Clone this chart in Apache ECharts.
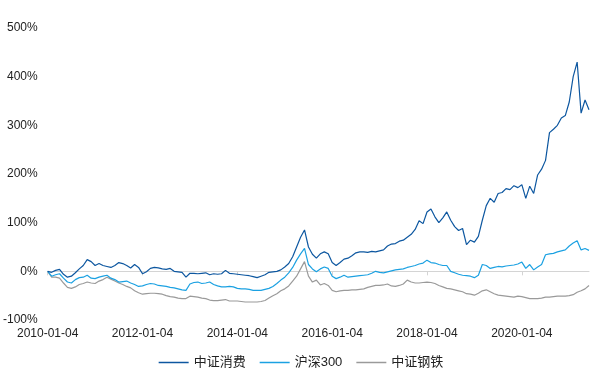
<!DOCTYPE html>
<html>
<head>
<meta charset="utf-8">
<script src="https://cdn.jsdelivr.net/npm/echarts@6/dist/echarts.min.js"></script>
<style>
html,body{margin:0;padding:0;background:#fff;}
#chart{width:602px;height:374px;}
</style>
</head>
<body>
<div id="chart"></div>
<script>
// Monthly categories, 2010-01 .. 2021-06 (tick labels every 24 months)
const categories = [];
for (let y = 2010; y <= 2021; y++) {
  for (let m = 1; m <= 12; m++) {
    if (y === 2021 && m > 6) break;
    categories.push(y + '-' + (m < 10 ? '0' + m : m) + '-04');
  }
}

const seriesNames = ['中证消费', '沪深300', '中证钢铁'];

// 中证消费 cumulative return (%)
const consumer = [
  0, -2, 2, 4, -6, -12, -10, -3, 5, 12, 24, 20,
  12, 16, 12, 10, 8, 12, 18, 16, 12, 7, 14, 8,
  -5, -1, 6, 8, 7, 5, 4, 6, 0, -1, -2, -12,
  -4, -4, -5, -4, -3, -7, -5, -6, -5, 2, -4, -5,
  -6, -7, -8, -9, -11, -13, -10, -7, -2, -1, 0, 3,
  9, 16, 30, 50, 70, 85, 50, 35, 27, 36, 40, 36,
  18, 12, 18, 25, 27, 32, 38, 40, 40, 39, 41, 40,
  42, 44, 52, 56, 57, 62, 64, 70, 76, 86, 104, 98,
  122, 128, 112, 100, 110, 122, 105, 92, 84, 88, 55, 64,
  60, 72, 105, 135, 150, 142, 160, 162, 170, 168, 176, 172,
  178, 150, 175, 160, 198, 210, 228, 285, 292, 300, 315, 320,
  348, 400, 430, 325, 352, 332
];

// 沪深300 cumulative return (%)
const hs300 = [
  0, -10, -7, -5, -14, -22, -24, -17, -13, -12, -8, -14,
  -15, -12, -10, -8, -14, -17, -22, -21, -20, -24, -27, -31,
  -30, -27, -25, -26, -29, -30, -31, -33, -34, -36, -38, -39,
  -26, -23, -22, -25, -24, -22, -27, -30, -32, -32, -31, -32,
  -35, -36, -36, -37, -39, -39, -39, -37, -35, -31, -25, -18,
  -12, -3, 8, 23, 36, 47, 14, 5, -1, 5, 9, 6,
  -10, -15, -12, -8, -12, -11, -10, -9, -8, -7, -4, 0,
  -2, -3, -1, 1, 3, 4, 5, 8, 10, 12, 15, 17,
  23, 18, 17, 14, 12, 12, 0, -3, -6, -8, -9, -10,
  -13, -8, 14, 12, 6, 8, 10, 9, 11, 12, 13, 15,
  19, 6, 14, 3, 9, 14, 34, 36, 37, 40, 42, 44,
  52, 58, 63, 44, 47, 43
];

// 中证钢铁 cumulative return (%)
const steel = [
  0, -12, -12, -14, -24, -33, -35, -32, -27, -25, -22, -24,
  -25, -20, -17, -12, -16, -20, -24, -27, -31, -34, -40, -44,
  -47, -46, -45, -45, -46, -47, -50, -52, -53, -55, -56, -56,
  -51, -52, -53, -55, -56, -59, -60, -60, -59, -58, -61, -61,
  -61, -62, -63, -63, -63, -63, -62, -60, -55, -50, -46, -40,
  -36, -30, -20, -10, 5, 20, -10, -22, -18, -28, -25, -29,
  -39, -42, -40, -39, -39, -38, -38, -37, -36, -33, -31, -29,
  -29, -28, -26, -30, -31, -29, -26, -18, -22, -24, -24, -23,
  -22, -23, -25, -29, -32, -35, -36, -38, -40, -42, -46, -47,
  -49, -45, -40, -38, -42, -46, -49, -50, -51, -52, -53, -51,
  -52, -54, -56, -56, -56, -55, -53, -53, -52, -51, -51, -51,
  -50, -48, -43, -40, -36, -29
];

const yTicks = { min: -100, max: 500, interval: 100 };
const colors = ['#0d57a0', '#1ba1e2', '#9a9a9a'];

const FONT = '"Liberation Sans", Arial, "Noto Sans CJK SC", sans-serif';
const chart = echarts.init(document.getElementById('chart'), null, { renderer: 'canvas' });
const labelEvery = (idx) => idx % 24 === 0;

chart.setOption({
  animation: false,
  color: colors,
  textStyle: { fontFamily: FONT },
  grid: { left: 47, right: 13, top: 28, bottom: 54, containLabel: false },
  legend: {
    top: 351,
    left: 'center',
    icon: 'rect',
    itemWidth: 30,
    itemHeight: 1.5,
    itemGap: 14,
    textStyle: { fontSize: 13, color: '#222', fontFamily: FONT },
    data: seriesNames
  },
  xAxis: [
    {
      type: 'category',
      data: categories,
      boundaryGap: false,
      axisLine: { show: false, onZero: false },
      axisTick: { show: false },
      axisLabel: { interval: labelEvery, color: '#222', fontSize: 12, margin: 8, fontFamily: FONT },
      splitLine: { show: false }
    },
    {
      type: 'category',
      data: categories,
      boundaryGap: false,
      position: 'bottom',
      axisLine: { show: true, onZero: true, lineStyle: { color: '#d4d4d4', width: 1 } },
      axisTick: { show: true, interval: labelEvery, length: 4, lineStyle: { color: '#d4d4d4' } },
      axisLabel: { show: false },
      splitLine: { show: false }
    }
  ],
  yAxis: {
    type: 'value',
    min: yTicks.min,
    max: yTicks.max,
    interval: yTicks.interval,
    axisLine: { show: false },
    axisTick: { show: false },
    splitLine: { show: false },
    axisLabel: { formatter: '{value}%', color: '#222', fontSize: 12, margin: 10, fontFamily: FONT }
  },
  series: [
    { name: seriesNames[0], type: 'line', data: consumer, symbol: 'none', lineStyle: { width: 1.2 }, z: 3 },
    { name: seriesNames[1], type: 'line', data: hs300, symbol: 'none', lineStyle: { width: 1.2 }, z: 2 },
    { name: seriesNames[2], type: 'line', data: steel, symbol: 'none', lineStyle: { width: 1.2 }, z: 1 }
  ]
});
</script>
</body>
</html>
